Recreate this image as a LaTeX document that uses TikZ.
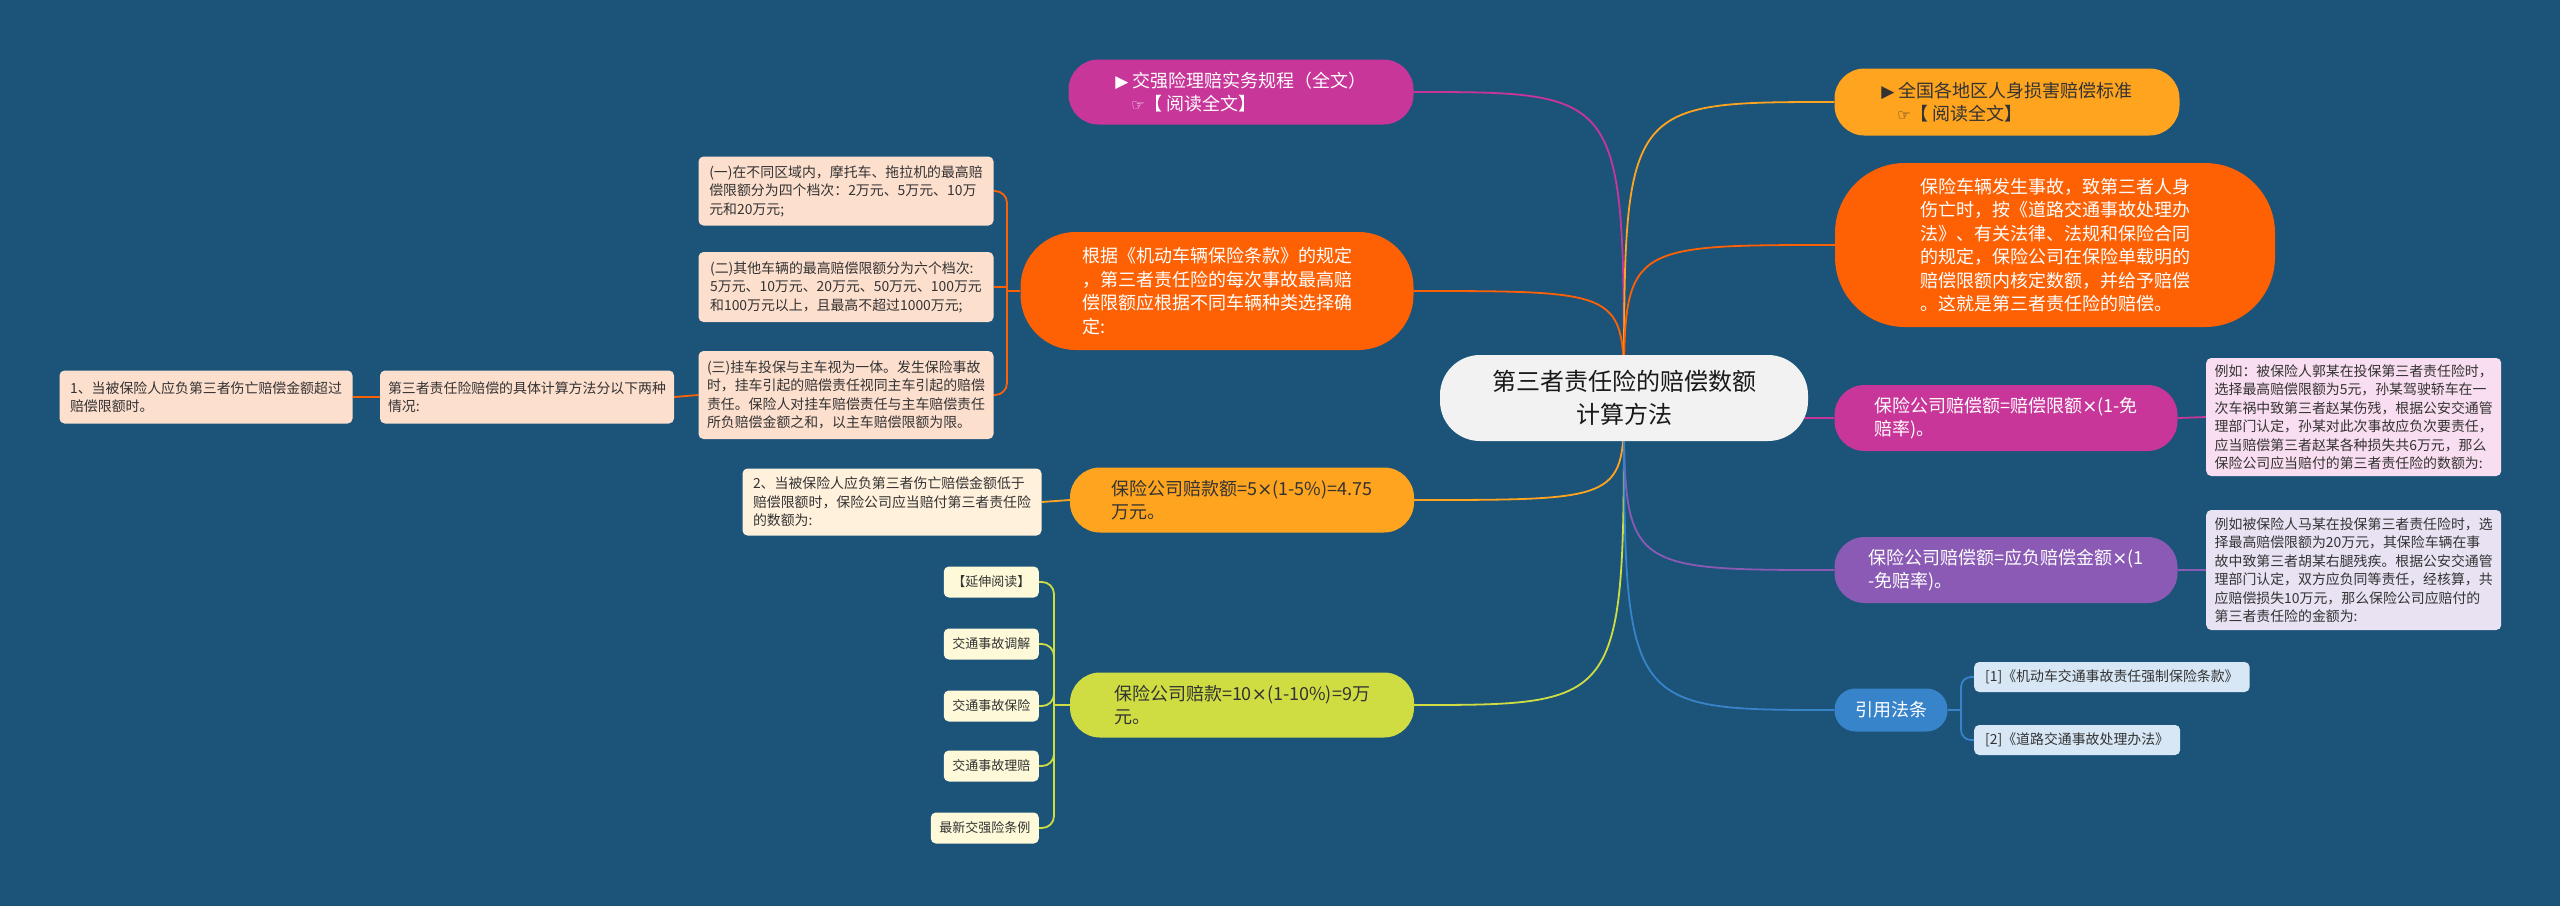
\documentclass[tikz,border=0pt]{standalone}
\usepackage{fontspec}
\usepackage{xcolor}
\usepackage{tikz}
\usetikzlibrary{positioning}
\setmainfont{Noto Sans CJK SC}
\newfontfamily\glyphfont{DejaVu Sans}
\newcommand{\playmark}{{\glyphfont\fontsize{17}{17}\selectfont ▶}}
\newcommand{\handmark}{{\glyphfont\fontsize{15}{15}\selectfont ☞}}
\newcommand{\tms}{{\glyphfont ×}}

\definecolor{mapbg}{HTML}{1C5379}
\definecolor{rootgray}{HTML}{F2F2F2}
\definecolor{cmag}{HTML}{C8369A}
\definecolor{corange}{HTML}{FD6104}
\definecolor{camber}{HTML}{FFA41E}
\definecolor{clime}{HTML}{CFDD42}
\definecolor{cpurple}{HTML}{8A5AB4}
\definecolor{cblue}{HTML}{3784CA}
\definecolor{peach}{HTML}{FDDFCE}
\definecolor{cream}{HTML}{FFF1DC}
\definecolor{pinknote}{HTML}{F9DDF0}
\definecolor{lavnote}{HTML}{E9E2F3}
\definecolor{bluenote}{HTML}{D8E7F5}
\definecolor{tagnote}{HTML}{FEF9D9}
\definecolor{inkdark}{HTML}{333333}

\pgfdeclarelayer{paper}
\pgfdeclarelayer{links}
\pgfsetlayers{paper,links,main}

\begin{document}
\begin{tikzpicture}[x=1pt,y=-1pt,
    pill/.style={rectangle,rounded corners=30pt,minimum height=65pt,inner sep=0pt,align=left,font=\fontsize{18}{23.5}\selectfont},
    note/.style={rectangle,rounded corners=5pt,inner sep=0pt,align=left,text=inkdark,font=\fontsize{13.9}{18.5}\selectfont},
    tagbox/.style={note,inner xsep=8.5pt,minimum height=31pt,fill=tagnote,anchor=east,font=\fontsize{13}{16}\selectfont},
    lawbox/.style={note,inner xsep=11pt,minimum height=30pt,fill=bluenote,anchor=west},
    link/.style={line width=1.8pt}]
\useasboundingbox (0,0) rectangle (2560,906);
\begin{pgfonlayer}{paper}
  \fill[mapbg] (0,0) rectangle (2560,906);
\end{pgfonlayer}

% root
\node[pill,fill=rootgray,text=black!90,minimum width=368pt,minimum height=86pt,rounded corners=40pt,align=center,font=\fontsize{24}{33}\selectfont] (root) at (1624,398) {第三者责任险的赔偿数额\\计算方法};

% left side
\node[pill,fill=cmag,text=white,minimum width=345pt] (jqx) at (1241,92) {\playmark\ 交强险理赔实务规程（全文）\\\hspace*{16pt}\handmark【 阅读全文】};
\node[pill,fill=corange,text=white,minimum width=393pt,minimum height=118pt,rounded corners=55pt] (gj) at (1217,291) {根据《机动车辆保险条款》的规定\\，第三者责任险的每次事故最高赔\\偿限额应根据不同车辆种类选择确\\定:};
\node[pill,fill=camber,text=inkdark,minimum width=344pt] (pk5) at (1242,500) {保险公司赔款额=5\tms(1-5\%)=4.75\\万元。};
\node[pill,fill=clime,text=inkdark,minimum width=344pt] (pk10) at (1242,705) {保险公司赔款=10\tms(1-10\%)=9万\\元。};

\node[note,fill=peach,minimum width=295pt,minimum height=69pt] (d1) at (846,191) {(一)在不同区域内，摩托车、拖拉机的最高赔\\偿限额分为四个档次：2万元、5万元、10万\\元和20万元;};
\node[note,fill=peach,minimum width=295pt,minimum height=70pt] (d2) at (846,287) {(二)其他车辆的最高赔偿限额分为六个档次:\\5万元、10万元、20万元、50万元、100万元\\和100万元以上，且最高不超过1000万元;};
\node[note,fill=peach,minimum width=295pt,minimum height=88pt] (d3) at (846,395) {(三)挂车投保与主车视为一体。发生保险事故\\时，挂车引起的赔偿责任视同主车引起的赔偿\\责任。保险人对挂车赔偿责任与主车赔偿责任\\所负赔偿金额之和，以主车赔偿限额为限。};
\node[note,fill=peach,minimum width=294pt,minimum height=53pt] (calc) at (527,397) {第三者责任险赔偿的具体计算方法分以下两种\\情况:};
\node[note,fill=peach,minimum width=293pt,minimum height=53pt] (case1) at (206,397) {1、当被保险人应负第三者伤亡赔偿金额超过\\赔偿限额时。};
\node[note,fill=cream,minimum width=299pt,minimum height=67pt] (case2) at (892,502) {2、当被保险人应负第三者伤亡赔偿金额低于\\赔偿限额时，保险公司应当赔付第三者责任险\\的数额为:};

\node[tagbox] (t1) at (1039,582) {【延伸阅读】};
\node[tagbox] (t2) at (1039,644) {交通事故调解};
\node[tagbox] (t3) at (1039,706) {交通事故保险};
\node[tagbox] (t4) at (1039,766) {交通事故理赔};
\node[tagbox] (t5) at (1039,828) {最新交强险条例};

% right side
\node[pill,fill=camber,text=inkdark,minimum width=345pt,minimum height=67pt] (rsb) at (2007,102) {\playmark\ 全国各地区人身损害赔偿标准\\\hspace*{16pt}\handmark【 阅读全文】};
\node[pill,fill=corange,text=white,minimum width=440pt,minimum height=164pt,rounded corners=70pt] (bx) at (2055,245) {保险车辆发生事故，致第三者人身\\伤亡时，按《道路交通事故处理办\\法》、有关法律、法规和保险合同\\的规定，保险公司在保险单载明的\\赔偿限额内核定数额，并给予赔偿\\。这就是第三者责任险的赔偿。};
\node[pill,fill=cmag,text=white,minimum width=343pt,minimum height=66pt] (pc1) at (2006,418) {保险公司赔偿额=赔偿限额\tms(1-免\\赔率)。};
\node[pill,fill=cpurple,text=white,minimum width=343pt,minimum height=66pt] (pc2) at (2006,570) {保险公司赔偿额=应负赔偿金额\tms(1\\-免赔率)。};
\node[pill,fill=cblue,text=white,minimum width=113pt,minimum height=43pt,rounded corners=21pt] (yf) at (1891,710) {引用法条};

\node[note,fill=pinknote,minimum width=295pt,minimum height=118pt,anchor=west] (ex1) at (2206,417) {例如：被保险人郭某在投保第三者责任险时，\\选择最高赔偿限额为5元，孙某驾驶轿车在一\\次车祸中致第三者赵某伤残，根据公安交通管\\理部门认定，孙某对此次事故应负次要责任，\\应当赔偿第三者赵某各种损失共6万元，那么\\保险公司应当赔付的第三者责任险的数额为:};
\node[note,fill=lavnote,minimum width=295pt,minimum height=120pt,anchor=west] (ex2) at (2206,570) {例如被保险人马某在投保第三者责任险时，选\\择最高赔偿限额为20万元，其保险车辆在事\\故中致第三者胡某右腿残疾。根据公安交通管\\理部门认定，双方应负同等责任，经核算，共\\应赔偿损失10万元，那么保险公司应赔付的\\第三者责任险的金额为:};
\node[lawbox] (law1) at (1974,677) {[1]《机动车交通事故责任强制保险条款》};
\node[lawbox] (law2) at (1974,740) {[2]《道路交通事故处理办法》};

\coordinate (gjs) at (1007,291);
\coordinate (pks) at (1054,705);
\coordinate (yfs) at (1961,710);

\begin{pgfonlayer}{links}
  \draw[link,cmag] (root.center) .. controls (root.center |- jqx.east) .. (jqx.east);
  \draw[link,corange] (root.center) .. controls (root.center |- gj.east) .. (gj.east);
  \draw[link,camber] (root.center) .. controls (root.center |- pk5.east) .. (pk5.east);
  \draw[link,clime] (root.center) .. controls (root.center |- pk10.east) .. (pk10.east);
  \draw[link,camber] (root.center) .. controls (root.center |- rsb.west) .. (rsb.west);
  \draw[link,corange] (root.center) .. controls (root.center |- bx.west) .. (bx.west);
  \draw[link,cmag] (root.center) .. controls (root.center |- pc1.west) .. (pc1.west);
  \draw[link,cpurple] (root.center) .. controls (root.center |- pc2.west) .. (pc2.west);
  \draw[link,cblue] (root.center) .. controls (root.center |- yf.west) .. (yf.west);

  \draw[link,corange] (gj.west) -- (gjs);
  \draw[link,corange,rounded corners=12pt] (gjs) |- (d1.east);
  \draw[link,corange] (gjs) |- (d2.east);
  \draw[link,corange,rounded corners=12pt] (gjs) |- (d3.east);
  \draw[link,corange] (d3.west) -- (calc.east);
  \draw[link,corange] (calc.west) -- (case1.east);
  \draw[link,camber] (pk5.west) -- (case2.east);

  \draw[link,clime] (pk10.west) -- (pks);
  \foreach \t in {t1,t2,t3,t4,t5}
    \draw[link,clime,rounded corners=12pt] (pks) |- (\t.east);

  \draw[link,cmag] (pc1.east) -- (ex1.west);
  \draw[link,cpurple] (pc2.east) -- (ex2.west);
  \draw[link,cblue] (yf.east) -- (yfs);
  \draw[link,cblue,rounded corners=10pt] (yfs) |- (law1.west);
  \draw[link,cblue,rounded corners=10pt] (yfs) |- (law2.west);
\end{pgfonlayer}
\end{tikzpicture}
\end{document}
